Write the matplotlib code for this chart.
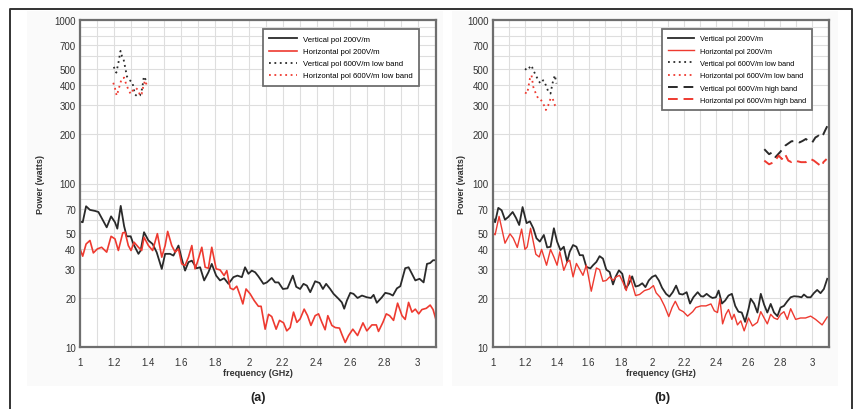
"""Radiated power vs frequency, vertical/horizontal polarisation, panels (a) and (b)"""
import matplotlib
matplotlib.use("Agg")
import matplotlib.pyplot as plt
from matplotlib.patches import Rectangle
from matplotlib.ticker import FixedLocator, NullFormatter, NullLocator

plt.rcParams['font.family'] = ['Liberation Sans', 'DejaVu Sans']

BLACK = '#2a2a2a'
RED = '#ee3a30'

## ------ panel (a) data ------- ##

a_vert_freq = [1.000, 1.016, 1.036, 1.059, 1.089, 1.109, 1.138, 1.158, 1.184, 1.207,
               1.221, 1.241, 1.261, 1.276, 1.300, 1.316, 1.346, 1.359, 1.379, 1.405,
               1.430, 1.454, 1.484, 1.504, 1.533, 1.553, 1.583, 1.602, 1.622, 1.642,
               1.662, 1.691, 1.711, 1.735, 1.760, 1.780, 1.806, 1.829, 1.853, 1.879,
               1.908, 1.932, 1.958, 1.977, 1.997, 2.017, 2.037, 2.056, 2.086, 2.106,
               2.135, 2.155, 2.175, 2.201, 2.228, 2.260, 2.280, 2.303, 2.323, 2.343,
               2.363, 2.392, 2.418, 2.438, 2.457, 2.481, 2.501, 2.530, 2.550, 2.564,
               2.580, 2.600, 2.619, 2.643, 2.669, 2.698, 2.722, 2.738, 2.757, 2.787,
               2.807, 2.833, 2.852, 2.876, 2.896, 2.925, 2.945, 2.965, 2.985, 3.010,
               3.034, 3.054, 3.073, 3.090, 3.105]
a_vert_200 = [58.6, 58, 72.6, 69, 68, 67, 59, 54, 63, 58,
              53, 73, 55, 47.6, 47.6, 42.7, 37.2, 39, 50.4, 44.9,
              42.7, 38, 30.1, 37.2, 37.2, 36.3, 41.8, 34.7, 29.4, 33.1,
              33.8, 30.4, 30.8, 25.6, 28.7, 32.3, 27.4, 25.6, 26.4, 24.4,
              26.8, 27.4, 26.8, 30.8, 28.1, 29.4, 28.7, 27.1, 24.4, 24.9,
              26.5, 24.9, 24.9, 22.7, 22.9, 27.4, 23.4, 22.7, 24.4, 23.8,
              21.7, 25.3, 24.7, 22.7, 24.4, 22.7, 21.2, 19.8, 18.8, 17.2,
              19.3, 21.5, 21.2, 20.0, 20.7, 20.2, 20.0, 20.9, 18.7, 20.2,
              21.5, 21.2, 20.7, 22.9, 23.6, 30.4, 30.8, 28.1, 25.6, 26.2,
              24.9, 32.3, 32.7, 34, 34]

a_horiz_freq = [1.000, 1.016, 1.036, 1.059, 1.079, 1.103, 1.128, 1.158, 1.184, 1.207,
                1.227, 1.253, 1.267, 1.286, 1.302, 1.320, 1.346, 1.365, 1.379, 1.405,
                1.430, 1.458, 1.484, 1.504, 1.519, 1.543, 1.563, 1.583, 1.602, 1.622,
                1.642, 1.662, 1.681, 1.695, 1.721, 1.741, 1.760, 1.780, 1.806, 1.829,
                1.853, 1.869, 1.889, 1.908, 1.928, 1.948, 1.964, 1.983, 2.007, 2.031,
                2.056, 2.072, 2.096, 2.116, 2.135, 2.161, 2.181, 2.205, 2.224, 2.244,
                2.264, 2.284, 2.303, 2.327, 2.347, 2.367, 2.392, 2.412, 2.432, 2.451,
                2.467, 2.491, 2.511, 2.536, 2.550, 2.570, 2.590, 2.615, 2.643, 2.675,
                2.698, 2.728, 2.754, 2.767, 2.793, 2.813, 2.833, 2.856, 2.880, 2.906,
                2.925, 2.945, 2.965, 2.985, 3.005, 3.024, 3.050, 3.073, 3.090, 3.105]
a_horiz_200 = [39.9, 36.0, 42.7, 44.9, 37.7, 39.9, 40.8, 38.1, 47.6, 45.9,
               39.0, 49.9, 50.4, 41.8, 39.0, 43.8, 40.8, 39.0, 47.0, 41.8,
               39.0, 49.4, 35.5, 41.8, 51.0, 41.8, 38.1, 39.9, 32.3, 31.6,
               35.5, 41.8, 30.1, 33.1, 40.8, 30.8, 30.4, 40.8, 30.1, 29.7,
               27.4, 29.4, 23.0, 22.5, 23.6, 20.7, 18.4, 22.7, 21.2, 19.3,
               17.8, 17.8, 12.9, 15.9, 15.4, 12.9, 14.6, 14.1, 12.6, 13.2,
               16.4, 14.2, 14.9, 17.1, 15.6, 13.6, 15.6, 16.0, 14.2, 12.8,
               15.6, 13.6, 13.2, 13.1, 12.0, 10.7, 11.8, 12.9, 11.8, 14.1,
               12.6, 13.7, 13.7, 12.5, 14.2, 16.0, 15.6, 14.6, 18.6, 15.6,
               14.8, 18.8, 16.4, 17.1, 16.0, 17.0, 17.3, 18.1, 17, 15]

a_vert_low_freq = [1.200, 1.215, 1.228, 1.240, 1.248, 1.257, 1.263, 1.270, 1.278,
                   1.290, 1.310, 1.325, 1.340, 1.355, 1.368, 1.378, 1.395]
a_vert_600_low = [515, 475, 550, 645, 600, 580, 540, 495, 450,
                  430, 415, 350, 340, 345, 380, 450, 420]

a_horiz_low_freq = [1.197, 1.207, 1.217, 1.227, 1.237, 1.247, 1.261, 1.273, 1.286,
                    1.300, 1.316, 1.332, 1.346, 1.355, 1.365, 1.375, 1.385, 1.395]
a_horiz_600_low = [412, 382, 344, 370, 405, 436, 443, 405, 375,
                   352, 375, 382, 370, 344, 352, 393, 425, 400]

## ------ panel (b) data ------- ##

b_vert_freq = [1.000, 1.015, 1.035, 1.056, 1.077, 1.098, 1.125, 1.146, 1.166, 1.187,
               1.212, 1.233, 1.254, 1.274, 1.295, 1.320, 1.341, 1.362, 1.383, 1.403,
               1.424, 1.445, 1.466, 1.482, 1.503, 1.524, 1.545, 1.565, 1.586, 1.611,
               1.628, 1.649, 1.669, 1.690, 1.711, 1.732, 1.753, 1.769, 1.790, 1.811,
               1.832, 1.852, 1.873, 1.894, 1.915, 1.936, 1.956, 1.977, 1.998, 2.019,
               2.040, 2.060, 2.085, 2.106, 2.127, 2.148, 2.168, 2.189, 2.214, 2.235,
               2.256, 2.283, 2.304, 2.318, 2.339, 2.360, 2.376, 2.397, 2.414, 2.435,
               2.455, 2.476, 2.497, 2.518, 2.538, 2.559, 2.580, 2.601, 2.615, 2.636,
               2.657, 2.678, 2.699, 2.719, 2.740, 2.761, 2.782, 2.802, 2.823, 2.844,
               2.865, 2.886, 2.913, 2.933, 2.948, 2.969, 2.990, 3.010, 3.031, 3.052,
               3.073, 3.094]
b_vert_200 = [62.5, 58, 71, 68.6, 60.1, 62.5, 67, 61.6, 55.8, 71.8,
              57.3, 58.7, 53.3, 46.3, 44.2, 48.5, 40.7, 41.1, 53.3, 44.2,
              39.2, 41.1, 33.2, 38.3, 42.1, 41.1, 36.5, 36.5, 31.0, 30.3,
              31.7, 33.2, 36.0, 34.8, 29.8, 28.8, 24.2, 26.9, 29.5, 28.1,
              22.7, 24.4, 27.1, 23.5, 23.8, 24.6, 23.3, 25.6, 26.9, 27.5,
              25.6, 23.1, 21.2, 20.4, 21.7, 23.8, 21.2, 21.0, 21.7, 18.5,
              20.2, 21.7, 20.5, 20.4, 21.2, 20.4, 20.0, 20.2, 22.2, 18.5,
              19.3, 20.7, 21.2, 17.9, 16.5, 16.3, 14.3, 17.1, 19.8, 18.5,
              16.3, 21.2, 18.2, 16.3, 18.4, 16.3, 15.5, 17.5, 17.9, 19.1,
              20.2, 20.5, 20.4, 20.2, 21.0, 20.2, 20.2, 21.4, 22.4, 21.4,
              22.7, 26.2]

b_horiz_freq = [1.000, 1.015, 1.040, 1.077, 1.108, 1.129, 1.154, 1.181, 1.202, 1.216,
                1.237, 1.270, 1.291, 1.306, 1.337, 1.362, 1.383, 1.403, 1.420, 1.445,
                1.466, 1.482, 1.503, 1.524, 1.565, 1.586, 1.617, 1.649, 1.669, 1.690,
                1.711, 1.732, 1.753, 1.773, 1.794, 1.815, 1.836, 1.857, 1.894, 1.919,
                1.950, 1.981, 2.006, 2.023, 2.048, 2.075, 2.102, 2.123, 2.143, 2.168,
                2.193, 2.220, 2.252, 2.272, 2.304, 2.335, 2.366, 2.387, 2.407, 2.422,
                2.439, 2.459, 2.476, 2.497, 2.511, 2.532, 2.553, 2.574, 2.601, 2.626,
                2.657, 2.678, 2.699, 2.719, 2.740, 2.761, 2.782, 2.802, 2.823, 2.844,
                2.865, 2.896, 2.927, 2.958, 2.990, 3.021, 3.062, 3.094]
b_horiz_200 = [50.2, 48.6, 63, 43.2, 49.3, 46.3, 40.7, 52.7, 39.6, 41,
               53.3, 37, 35.6, 39.6, 31.7, 39.6, 35.6, 31.7, 38.3, 29.5,
               33.2, 34, 26.9, 32.5, 27.5, 31.7, 22, 30.5, 29.8, 25.3,
               25.6, 26.9, 25.6, 26.9, 27.5, 25, 22.2, 27.5, 20.7, 21,
               22.2, 22.7, 23.8, 21.5, 20.2, 17.9, 15.4, 17.5, 19.1, 17,
               16.5, 15.5, 16.5, 17.5, 17.9, 17.9, 18.4, 16.7, 16.3, 19.8,
               13.9, 15.9, 17, 14.8, 15.9, 13.7, 14.5, 12.6, 15.1, 13.5,
               14.2, 16.5, 15.1, 13.9, 15.9, 15.1, 14.8, 15.9, 16.5, 14.8,
               17.2, 14.8, 15.1, 15.1, 15.5, 14.8, 13.7, 15.3]

b_low_freq = [1.202, 1.216, 1.233, 1.243, 1.254, 1.270, 1.285, 1.299,
              1.316, 1.333, 1.347, 1.362, 1.374, 1.389, 1.399]
b_vert_600_low = [502, 491, 514, 526, 491, 458, 427, 408,
                  427, 398, 366, 354, 408, 458, 408]
b_horiz_600_low = [359, 354, 437, 458, 389, 354, 330, 327,
                   308, 281, 299, 330, 333, 301, 294]

b_vert_high_freq = [2.70, 2.73, 2.75, 2.77, 2.80, 2.83, 2.87, 2.90, 2.92, 2.94,
                    2.96, 2.98, 3.00, 3.02, 3.04, 3.05, 3.07, 3.08, 3.10]
b_vert_600_high = [162, 151, 155, 145, 156, 170, 181, 182, 178, 182,
                   187, 181, 178, 191, 196, 191, 200, 210, 230]

b_horiz_high_freq = [2.70, 2.73, 2.76, 2.79, 2.81, 2.83, 2.85, 2.87, 2.89,
                     2.93, 2.96, 2.99, 3.01, 3.04, 3.06, 3.07, 3.09]
b_horiz_600_high = [138, 131, 135, 148, 141, 151, 138, 135, 138,
                    135, 135, 141, 138, 131, 127, 135, 141]

y_ticks = [10, 20, 30, 40, 50, 70, 100, 200, 300, 400, 500, 700, 1000]
y_grid = [10, 20, 30, 40, 50, 60, 70, 80, 90, 100,
          200, 300, 400, 500, 600, 700, 800, 900, 1000]
x_ticks = [1.0, 1.2, 1.4, 1.6, 1.8, 2.0, 2.2, 2.4, 2.6, 2.8, 3.0]
x_tick_labels = ['1', '1.2', '1.4', '1.6', '1.8', '2', '2.2', '2.4', '2.6', '2.8', '3']
x_grid = [1.0, 1.1, 1.2, 1.3, 1.4, 1.5, 1.6, 1.7, 1.8, 1.9, 2.0,
          2.1, 2.2, 2.3, 2.4, 2.5, 2.6, 2.7, 2.8, 2.9, 3.0, 3.1]


def style_axes(ax, ylabel_x):
    """ Log axis, light grid, grey frame, labels as in the scanned figure"""
    ax.set_yscale('log')
    ax.set_xlim(1.0, 3.105)
    ax.set_ylim(10, 1000)
    ax.yaxis.set_major_locator(FixedLocator(y_ticks))
    ax.set_yticklabels([str(t) for t in y_ticks])
    ax.yaxis.set_minor_locator(NullLocator())
    ax.yaxis.set_minor_formatter(NullFormatter())
    ax.set_xticks(x_ticks)
    ax.set_xticklabels(x_tick_labels)
    for g in y_grid:
        ax.axhline(g, color='#dedede', lw=0.8, zorder=0)
    for g in x_grid:
        ax.axvline(g, color='#dedede', lw=0.8, zorder=0)
    ax.tick_params(length=0, labelsize=7, colors='#333333')
    ax.tick_params(axis='x', pad=7)
    ax.tick_params(axis='y', pad=3)
    for sp in ax.spines.values():
        sp.set_color('#6e6e6e')
        sp.set_linewidth(1.6)
    ax.set_ylabel('Power (watts)', fontsize=6.5, fontweight='bold', color='#333333')
    ax.yaxis.set_label_coords(ylabel_x, 0.5)
    ax.set_xlabel('frequency (GHz)', fontsize=6.5, fontweight='bold', color='#333333')
    ax.xaxis.set_label_coords(0.5, -0.063)


fig = plt.figure(figsize=(8.58, 4.10), dpi=100)
fig.patch.set_facecolor('white')

# light panels behind each chart and the outer frame of the scan
fig.patches.append(Rectangle((27 / 858, 1 - 387 / 410), 416 / 858, 375 / 410,
                             transform=fig.transFigure, facecolor='#fafafa',
                             edgecolor='none', zorder=-2))
fig.patches.append(Rectangle((452 / 858, 1 - 387 / 410), 386 / 858, 375 / 410,
                             transform=fig.transFigure, facecolor='#fafafa',
                             edgecolor='none', zorder=-2))
fig.add_artist(plt.Line2D([10 / 858, 10 / 858, 852 / 858, 852 / 858],
                          [0, 1 - 10 / 410, 1 - 10 / 410, 0],
                          transform=fig.transFigure, color='#333333', lw=1.4))

ax1 = fig.add_axes([80 / 858, 1 - 348.3 / 410, 355.6 / 858, 327.6 / 410])
ax2 = fig.add_axes([492.7 / 858, 1 - 348.3 / 410, 336.3 / 858, 327.6 / 410])

# (a)
ax1.plot(a_vert_freq, a_vert_200, color=BLACK, lw=1.3, label='Vertical pol 200V/m')
ax1.plot(a_horiz_freq, a_horiz_200, color=RED, lw=1.2, label='Horizontal pol 200V/m')
ax1.plot(a_vert_low_freq, a_vert_600_low, color=BLACK, lw=1.3, ls=(0, (1, 2)),
         label='Vertical pol 600V/m low band')
ax1.plot(a_horiz_low_freq, a_horiz_600_low, color=RED, lw=1.3, ls=(0, (1, 2)),
         label='Horizontal pol 600V/m low band')
style_axes(ax1, -0.098)
leg1 = ax1.legend(loc='upper right', bbox_to_anchor=(0.965, 0.982), fontsize=5.6,
                  handlelength=3.6, borderpad=0.8, labelspacing=0.6,
                  handletextpad=0.8, fancybox=False, framealpha=1)
leg1.get_frame().set_edgecolor('#6e6e6e')
leg1.get_frame().set_linewidth(1.3)

# (b)
ax2.plot(b_vert_freq, b_vert_200, color=BLACK, lw=1.3, label='Vertical pol 200V/m')
ax2.plot(b_horiz_freq, b_horiz_200, color=RED, lw=1.0, label='Horizontal pol 200V/m')
ax2.plot(b_low_freq, b_vert_600_low, color=BLACK, lw=1.3, ls=(0, (1, 2)),
         label='Vertical pol 600V/m low band')
ax2.plot(b_low_freq, b_horiz_600_low, color=RED, lw=1.3, ls=(0, (1, 2)),
         label='Horizontal pol 600V/m low band')
ax2.plot(b_vert_high_freq, b_vert_600_high, color=BLACK, lw=1.4, ls=(0, (5, 3)),
         label='Vertical pol 600V/m high band')
ax2.plot(b_horiz_high_freq, b_horiz_600_high, color=RED, lw=1.4, ls=(0, (5, 3)),
         label='Horizontal pol 600V/m high band')
style_axes(ax2, -0.079)
leg2 = ax2.legend(loc='upper right', bbox_to_anchor=(0.961, 0.982), fontsize=5.3,
                  handlelength=3.6, borderpad=0.8, labelspacing=0.7,
                  handletextpad=0.8, fancybox=False, framealpha=1)
leg2.get_frame().set_edgecolor('#6e6e6e')
leg2.get_frame().set_linewidth(1.3)

fig.text(258 / 858, 1 - 398 / 410, '(a)', ha='center', va='center',
         fontsize=9, fontweight='bold', color='#222222')
fig.text(662 / 858, 1 - 398 / 410, '(b)', ha='center', va='center',
         fontsize=9, fontweight='bold', color='#222222')

fig.savefig('out.png', dpi=100)
